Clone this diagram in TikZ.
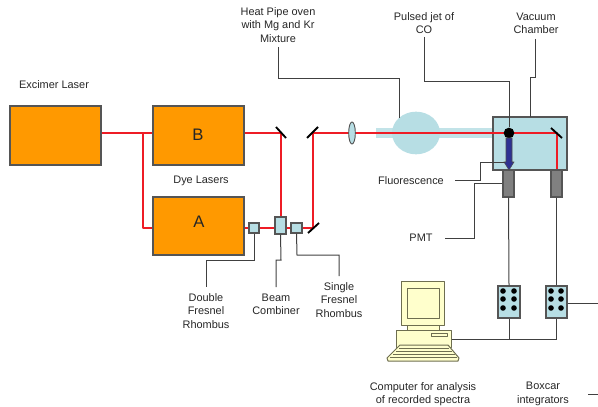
\documentclass[tikz,border=0pt]{standalone}
\usepackage{fontspec}
\setmainfont{Liberation Sans}
\usetikzlibrary{fit,shapes.geometric}
\definecolor{laserorange}{HTML}{FF9900}
\definecolor{paleblue}{HTML}{B7DEE4}
\definecolor{beamred}{HTML}{EE1C25}
\definecolor{edgegray}{HTML}{555555}
\definecolor{pmtgray}{HTML}{808080}
\definecolor{arrowblue}{HTML}{2E3192}
\definecolor{pccream}{HTML}{FFFFCC}
\definecolor{pcedge}{HTML}{6E6E50}
\tikzset{
  boxshape/.style={rectangle,inner sep=0pt,draw=edgegray,line width=.8pt},
  laserbox/.style={boxshape,fill=laserorange},
  opticbox/.style={boxshape,fill=paleblue},
  pmtbox/.style={boxshape,fill=pmtgray},
  beam/.style={draw=beamred,line width=1.8pt,line join=round},
  lead/.style={draw=black!75,line width=.75pt},
  mirror/.style={draw=black,line width=1.4pt},
  lbl/.style={align=center,font=\fontsize{8.2}{10}\selectfont,text=black!85,inner sep=0pt},
  biglbl/.style={font=\fontsize{12.5}{14}\selectfont,text=black!85,inner sep=0pt},
  pinhole/.style={circle,fill=black,inner sep=0pt,minimum size=4.2pt},
  pc/.style={draw=pcedge,fill=pccream,line width=.75pt,line join=round},
}
\begin{document}
\begin{tikzpicture}[x=.75pt,y=-.75pt]
\useasboundingbox (0,0) rectangle (598,406);
% anchors
\coordinate (mirB) at (281,133);
\coordinate (mirUp) at (313,133);
\coordinate (mirLow) at (313,228);
\coordinate (mirCh) at (557,133);
\coordinate (split) at (143,133);
\coordinate (splitLow) at (143,228);
\coordinate (jetTop) at (424,37);
\coordinate (jetBend) at (424,82);
\coordinate (vacTop) at (535,39);
\coordinate (heatTop) at (278,47);
% oven
\node[rectangle,fill=paleblue!85!white,inner sep=0pt,fit={(376,128)(495,138)}] (pipe) {};
\node[ellipse,fill=paleblue,inner sep=0pt,minimum width=36pt,minimum height=32pt] (oven) at (416,133) {};
% lasers
\node[laserbox,fit={(10,106)(101,165)}] (excimer) {};
\node[laserbox,fit={(153,106)(244,165)}] (dyeB) {};
\node[laserbox,fit={(153,197)(244,255)}] (dyeA) {};
\node[opticbox,fit={(493,117)(567,170)}] (chamber) {};
% beams
\draw[beam] (excimer.east |- split) -- (dyeB.west |- split);
\draw[beam] (split) -- (splitLow) -- (dyeA.west |- splitLow);
\draw[beam] (dyeB.east |- mirB) -- (mirB) -- (281,217);
\draw[beam] (dyeA.east |- mirLow) -- (mirLow) -- (mirUp) -- (mirCh) -- (mirCh |- chamber.south);
% mirrors
\draw[mirror] (276,127) -- (286,138);
\draw[mirror] (307,138) -- (318,127);
\draw[mirror] (308,233) -- (319,223);
\draw[mirror] (551,128) -- (562,138);
% lens
\node[ellipse,draw=edgegray,fill=paleblue,line width=.7pt,inner sep=0pt,minimum width=5pt,minimum height=16.5pt] (lens) at (352,133) {};
% optics
\node[opticbox,fit={(249,223)(259,233)}] (double) {};
\node[opticbox,fit={(275,217)(286,234)}] (combiner) {};
\node[opticbox,fit={(291,223)(302,233)}] (single) {};
% PMTs
\node[pmtbox,fit={(503,170)(514,197)}] (pmtA) {};
\node[pmtbox,fit={(551,170)(562,197)}] (pmtB) {};
% boxcars
\node[opticbox,fit={(498,286)(520,318)}] (boxA) {};
\node[opticbox,fit={(546,286)(567,318)}] (boxB) {};
\foreach \y in {291,299,308}{
  \node[pinhole] at (503,\y) {};
  \node[pinhole] at (514,\y) {};
  \node[pinhole] at (551,\y) {};
  \node[pinhole] at (561,\y) {};
}
% jet and fluorescence
\node[circle,fill=black,inner sep=0pt,minimum size=8pt] (jet) at (509,133) {};
\draw[fill=arrowblue,draw=black!70,line width=.4pt] (506,138) -- (512,138) -- (512,162) -- (514,162) -- (509,170) -- (504,162) -- (506,162) -- cycle;
% leaders
\draw[lead] (heatTop) -- (278,79) -- (399,79) -- (399,118);
\draw[lead] (jetTop) -- (jetBend) -- (509,82) -- (jet.north);
\draw[lead] (vacTop) -- (535,78) -- (530,78) -- (530,117);
\coordinate (fluoEnd) at (505,162);
\coordinate (fluoStart) at (455,180);
\draw[lead] (fluoStart) -- (480,180) -- (480,162) -- (fluoEnd);
\coordinate (pmtStart) at (445,238);
\draw[lead] (pmtStart) -- (474,238) -- (474,183) -- (pmtA.west |- 0,183);
\draw[lead] (double.south) -- (254,260) -- (206,260) -- (206,287);
\draw[lead] (combiner.south) -- (281,260) -- (276,260) -- (276,287);
\draw[lead] (single.south) -- (297,255) -- (339,255) -- (339,276);
\draw[lead] (pmtA.south) -- (boxA.north);
\draw[lead] (pmtB.south -| boxB.north) -- (boxB.north);
\coordinate (busEnd) at (451,339);
\draw[lead] (boxA.south) -- (509,339);
\draw[lead] (boxB.south) -- (556.5,339) -- (busEnd);
\coordinate (outEnd) at (598,303);
\draw[lead] (boxB.east |- outEnd) -- (outEnd);
\coordinate (stubA) at (588,394);
\coordinate (stubB) at (598,394);
\draw[lead] (stubA) -- (stubB);
% computer
\draw[pc] (407,325) rectangle (439,330);
\draw[pc] (401,281) rectangle (444,325);
\draw[pc] (407,288) rectangle (439,318);
\draw[pc] (396,330) rectangle (451,347);
\draw[pc] (431,333) rectangle (447,336);
\draw[pc] (400,345) -- (448,345) -- (459,358) -- (458,361) -- (388,361) -- (387,358) -- cycle;
\draw[draw=pcedge,line width=.7pt] (399,348) -- (449,348) (396,351) -- (452,351) (393,354) -- (455,354) (390,357) -- (457,357);
% labels
\node[lbl] (lexc) at (54,85) {Excimer Laser};
\node[biglbl] (lB) at (198,135) {B};
\node[biglbl] (lA) at (199,222) {A};
\node[lbl] (ldye) at (201,181) {Dye Lasers};
\node[lbl] (lheat) at (278,25) {Heat Pipe oven\\with Mg and Kr\\Mixture};
\node[lbl] (ljet) at (424,23) {Pulsed jet of\\CO};
\node[lbl] (lvac) at (536,23) {Vacuum\\Chamber};
\node[lbl] (lfluo) at (411,181) {Fluorescence};
\node[lbl] (lpmt) at (421,238) {PMT};
\node[lbl] (ldouble) at (206,311) {Double\\Fresnel\\Rhombus};
\node[lbl] (lbeam) at (276,304) {Beam\\Combiner};
\node[lbl] (lsingle) at (339,300) {Single\\Fresnel\\Rhombus};
\node[lbl] (lcomp) at (423,394) {Computer for analysis\\of recorded spectra};
\node[lbl] (lbox) at (543,394) {Boxcar\\integrators};
\end{tikzpicture}
\end{document}
